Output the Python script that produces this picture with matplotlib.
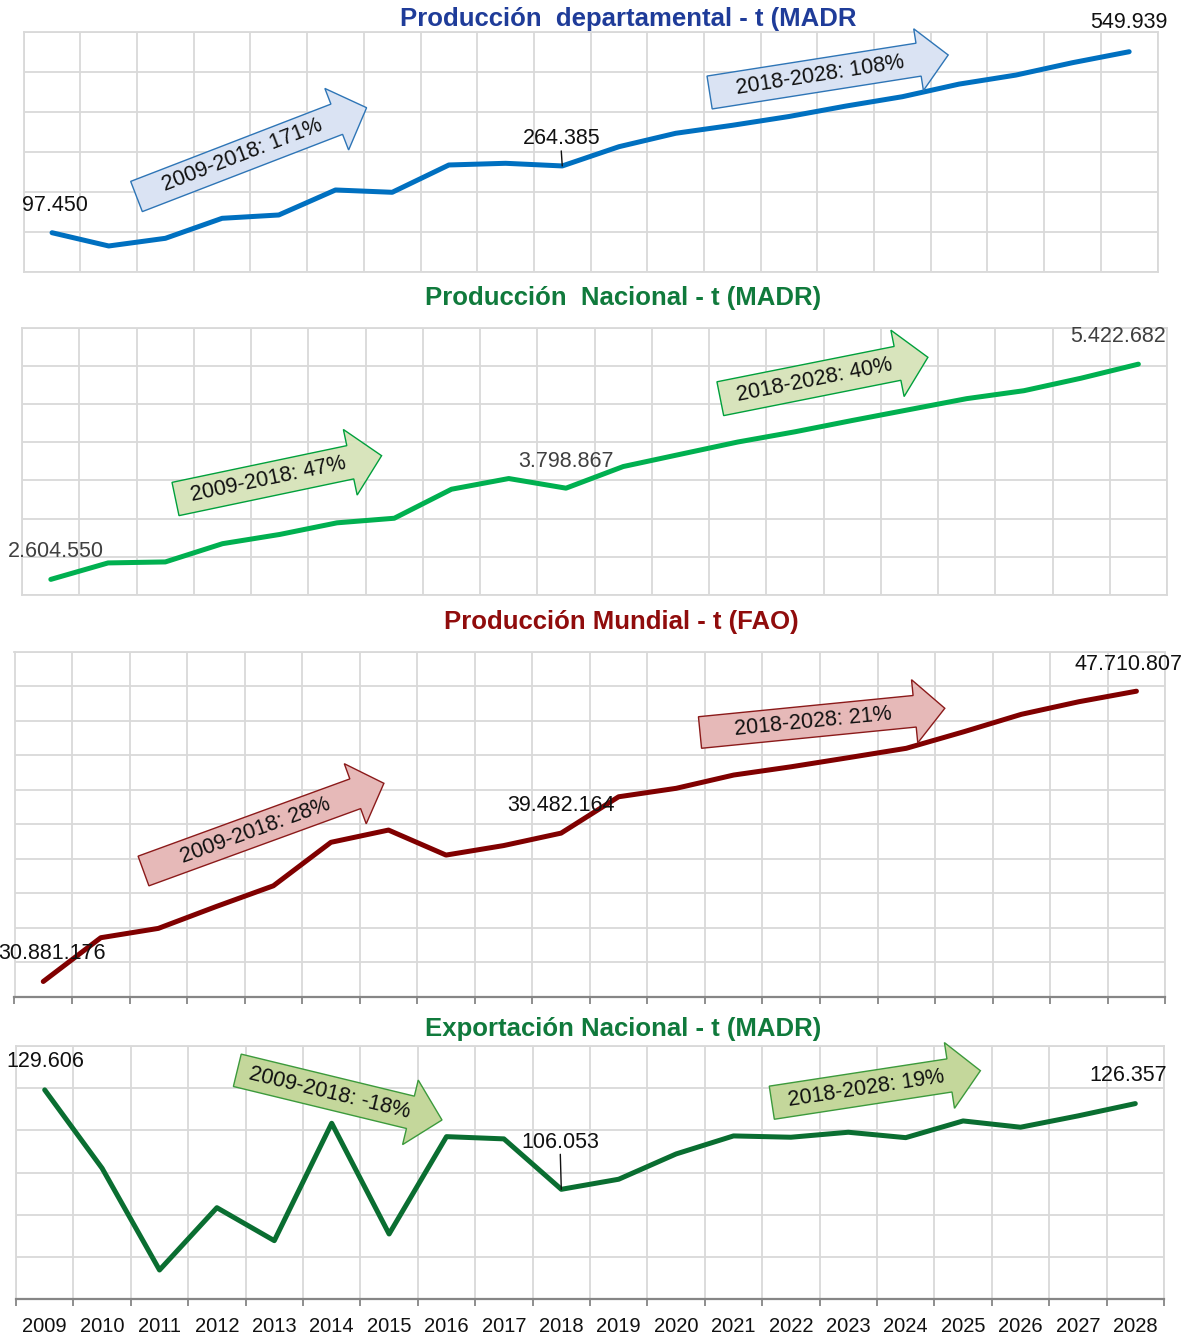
import numpy as np
import matplotlib
matplotlib.use("Agg")
import matplotlib.pyplot as plt
from matplotlib.patches import Polygon

# Data (tonnes)
years = [str(y) for y in range(2009, 2029)]

prod_dep = [97450, 64300, 83500, 133500, 141800, 204300, 198500, 266800, 271000, 264385,
            312500, 346000, 366000, 388000, 414000, 437500, 469000, 491500, 522500, 549939]

prod_nac = [2604550, 2820000, 2833000, 3072000, 3193000, 3345000, 3405000, 3785000, 3925000, 3798867,
            4082000, 4243000, 4403000, 4537000, 4685000, 4828000, 4971000, 5075000, 5239000, 5422682]

prod_mun = [30881176, 33420000, 33960000, 35220000, 36430000, 38950000, 39660000, 38210000, 38760000, 39482164,
            41590000, 42080000, 42850000, 43330000, 43860000, 44400000, 45360000, 46370000, 47100000, 47710807]

export_nac = [129606, 111040, 86940, 101700, 93890, 121700, 95470, 118530, 118000, 106053,
              108440, 114430, 118700, 118390, 119570, 118290, 122250, 120760, 123440, 126357]

titles = ["Producción  departamental - t (MADR",
          "Producción  Nacional - t (MADR)",
          "Producción Mundial - t (FAO)",
          "Exportación Nacional - t (MADR)"]

arrow_texts = [["2009-2018: 171%", "2018-2028: 108%"],
               ["2009-2018: 47%", "2018-2028: 40%"],
               ["2009-2018: 28%", "2018-2028: 21%"],
               ["2009-2018: -18%", "2018-2028: 19%"]]

# Figure in pixels
W, H = 1193, 1342
fig = plt.figure(figsize=(W / 100, H / 100), dpi=100)
plt.rcParams['font.family'] = ['Liberation Sans', 'DejaVu Sans']

GRID = '#D9D9D9'
AXIS = '#868686'


def fmt(v):
    return f"{v:,}".replace(',', '.')


def px_axes(left, top, right, bottom):
    # image pixel box -> axes in figure fraction
    return fig.add_axes([left / W, 1 - bottom / H, (right - left) / W, (bottom - top) / H])


def block_arrow(tail, tip, w, hw, hl, text, face, edge):
    # tail / tip in image pixels (y down)
    t = np.array(tail, float)
    p = np.array(tip, float)
    u = (p - t) / np.linalg.norm(p - t)
    n = np.array([-u[1], u[0]])
    b = p - u * hl
    pts = [t + n * w / 2, b + n * w / 2, b + n * hw / 2, p,
           b - n * hw / 2, b - n * w / 2, t - n * w / 2]
    pts = [(q[0] / W, 1 - q[1] / H) for q in pts]
    fig.patches.append(Polygon(pts, closed=True, facecolor=face, edgecolor=edge, lw=1.0,
                               transform=fig.transFigure, zorder=5))
    # text sits a little toward the head
    c = (t + b) / 2 + u * 6
    ang = np.degrees(np.arctan2(-(p[1] - t[1]), p[0] - t[0]))
    fig.text(c[0] / W, 1 - c[1] / H, text, rotation=ang, rotation_mode='anchor',
             ha='center', va='center', fontsize=15.5, color='#111111', zorder=6)


def setup(ax, ylo, yhi, step, ticks=False, labels=False):
    ax.set_xlim(-0.5, 19.5)
    ax.set_ylim(ylo, yhi)
    ax.set_xticks(np.arange(-0.5, 20, 1))
    ax.set_yticks(np.arange(ylo, yhi + step / 2, step))
    ax.grid(True, color=GRID, lw=1.3)
    ax.set_axisbelow(True)
    for s in ['left', 'right', 'top', 'bottom']:
        ax.spines[s].set_color(GRID)
        ax.spines[s].set_linewidth(1.3)
    ax.tick_params(axis='y', length=0, labelleft=False)
    ax.tick_params(axis='x', which='major', labelbottom=False)
    if ticks:
        ax.spines['bottom'].set_color(AXIS)
        ax.spines['bottom'].set_linewidth(1.6)
        ax.tick_params(axis='x', which='major', direction='out', length=5, width=1.3, color=AXIS)
    else:
        ax.tick_params(axis='x', which='major', length=0)
    if labels:
        ax.set_xticks(np.arange(20), minor=True)
        ax.set_xticklabels(years, minor=True)
        ax.tick_params(axis='x', which='minor', length=0, pad=13, labelsize=14.5, labelcolor='#111111')


def label(ax, i, vals, dx, dy, color, leader=False):
    ax.annotate(fmt(vals[i]), (i, vals[i]), xytext=(dx, dy), textcoords='offset pixels',
                ha='center', va='center', fontsize=15.5, color=color, zorder=4)
    if leader:
        ax.annotate('', (i, vals[i]), xytext=(dx, dy - 12), textcoords='offset pixels',
                    arrowprops=dict(arrowstyle='-', color='#111111', lw=1.0, shrinkA=0, shrinkB=0))


LW = 3.6

# Panel 1 - Producción departamental
ax1 = px_axes(23.7, 31.7, 1157.5, 271.7)
setup(ax1, 0, 600000, 100000)
ax1.plot(range(20), prod_dep, color='#0070C0', lw=LW, solid_capstyle='round', zorder=3)
label(ax1, 0, prod_dep, 3, 27, '#111111')
label(ax1, 9, prod_dep, -1, 27, '#111111', leader=True)
label(ax1, 19, prod_dep, 0, 29, '#111111')
fig.text(628 / W, 1 - 19 / H, titles[0], ha='center', va='center', fontsize=18.5,
         fontweight='bold', color='#1F3C99')
block_arrow((136.5, 196.5), (366.6, 107.7), 32.4, 66, 32, arrow_texts[0][0], '#DAE3F3', '#2E75B6')
block_arrow((709.6, 92.5), (948.2, 55), 33.3, 62.5, 30, arrow_texts[0][1], '#DAE3F3', '#2E75B6')

# Panel 2 - Producción nacional
ax2 = px_axes(22.2, 327.7, 1167, 595)
setup(ax2, 2400000, 5900000, 500000)
ax2.plot(range(20), prod_nac, color='#00B050', lw=LW, solid_capstyle='round', zorder=3)
label(ax2, 0, prod_nac, 5, 28, '#404040')
label(ax2, 9, prod_nac, 0, 27, '#404040')
label(ax2, 19, prod_nac, -20, 28, '#404040')
fig.text(623 / W, 1 - 298 / H, titles[1], ha='center', va='center', fontsize=18.5,
         fontweight='bold', color='#107A3C')
block_arrow((175.5, 499), (381.6, 455.7), 34, 67, 32, arrow_texts[1][0], '#D8E4BC', '#00A03C')
block_arrow((720.3, 398.7), (927.9, 357.3), 34.5, 67.7, 31, arrow_texts[1][1], '#D8E4BC', '#00A03C')

# Panel 3 - Producción mundial
ax3 = px_axes(14.5, 651.7, 1165.2, 996.7)
setup(ax3, 30000000, 50000000, 2000000, ticks=True)
ax3.plot(range(20), prod_mun, color='#800000', lw=LW, solid_capstyle='round', zorder=3)
label(ax3, 0, prod_mun, 9, 28, '#111111')
label(ax3, 9, prod_mun, 0, 28, '#111111')
label(ax3, 19, prod_mun, -8, 27, '#111111')
fig.text(621 / W, 1 - 622 / H, titles[2], ha='center', va='center', fontsize=18.5,
         fontweight='bold', color='#900C0C')
block_arrow((143.5, 871), (383.9, 783.3), 31.6, 64, 30.5, arrow_texts[2][0], '#E6B9B8', '#8B1A1A')
block_arrow((700, 732.5), (944.8, 708.3), 31.7, 63.5, 30.3, arrow_texts[2][1], '#E6B9B8', '#8B1A1A')

# Panel 4 - Exportación nacional
ax4 = px_axes(16, 1046, 1164, 1299.3)
setup(ax4, 80000, 140000, 10000, ticks=True, labels=True)
ax4.plot(range(20), export_nac, color='#0A6E31', lw=LW, solid_capstyle='round', zorder=3)
label(ax4, 0, export_nac, 1, 28, '#111111')
label(ax4, 9, export_nac, -1, 47, '#111111', leader=True)
label(ax4, 19, export_nac, -7, 28, '#111111')
fig.text(623 / W, 1 - 1029 / H, titles[3], ha='center', va='center', fontsize=18.5,
         fontweight='bold', color='#107A3C')
block_arrow((237.3, 1070.3), (442, 1120), 33.3, 66.4, 32.5, arrow_texts[3][0], '#C4D79B', '#3C9A3C')
block_arrow((771.8, 1102.7), (980.4, 1070.7), 33.5, 66.5, 31.3, arrow_texts[3][1], '#C4D79B', '#3C9A3C')

fig.savefig('out.png', dpi=100)
